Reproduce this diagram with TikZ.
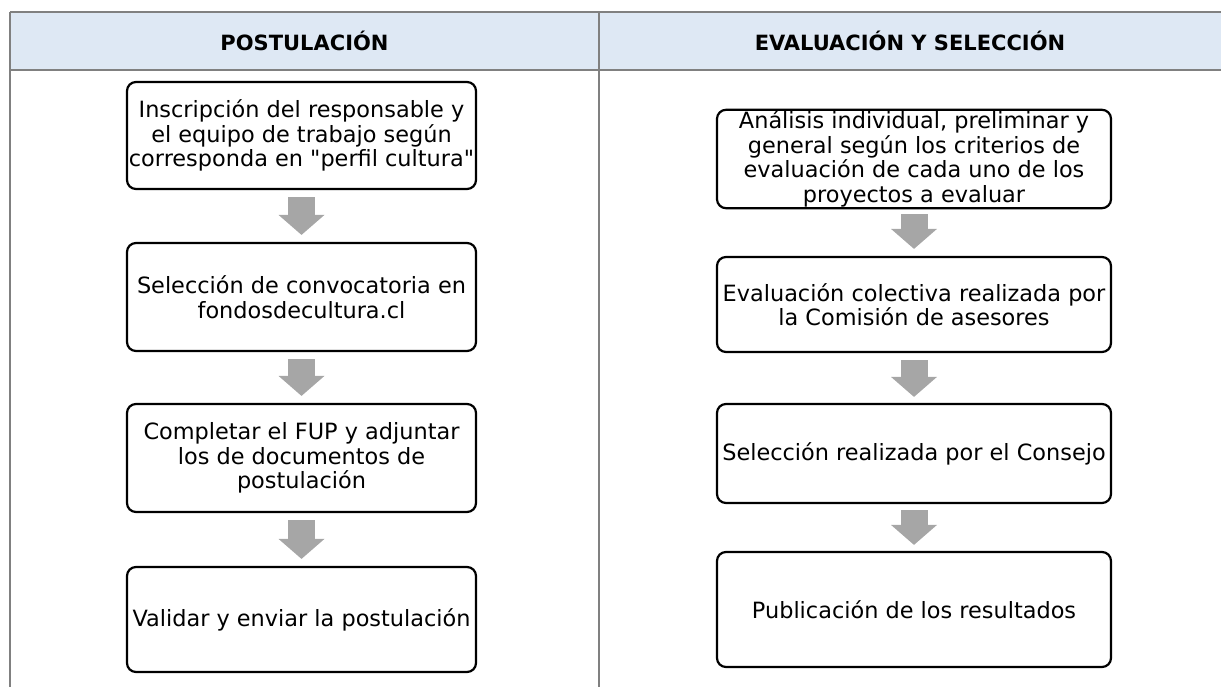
\documentclass[tikz,border=0pt]{standalone}
\usepackage{fontspec}
\setmainfont{DejaVu Sans}[Ligatures=TeXOff]
\usetikzlibrary{calc,positioning}
\usetikzlibrary{arrows.meta}
\definecolor{headblue}{HTML}{DEE8F4}
\definecolor{gridgray}{HTML}{808080}
\definecolor{arrowgray}{HTML}{A6A6A6}

\begin{document}
\begin{tikzpicture}[x=1pt,y=-1pt]
        \tikzstyle{stepbox} = [draw=black, line width=2.2pt, rectangle, rounded corners=9pt, align=center, inner sep=1pt, font=\fontsize{22.4}{24.6}\selectfont]
        \tikzstyle{headtext} = [font=\fontsize{21}{24}\selectfont\bfseries]
        \tikzstyle{flow} = [line width=27pt, draw=arrowgray, -{Triangle[width=46pt,length=20pt,line width=0pt]}]
        \useasboundingbox (0,0) rectangle (1221,687);

        % table
        \fill[headblue] (10,12) rectangle (1221,70);
        \draw[gridgray, line width=1.5pt] (10,12) -- (1221,12) (10,70) -- (1221,70) (10,12) -- (10,687) (599,12) -- (599,687);
        \node[headtext] (hpost) at (304.5,41) {POSTULACIÓN};
        \node[headtext] (heval) at (910,41) {EVALUACIÓN Y SELECCIÓN};

        % postulacion
        \node[stepbox, minimum width=349pt, minimum height=107pt] (post1) at (301.5,135.5) {Inscripción del responsable y\\el equipo de trabajo según\\corresponda en "perfil cultura"};
        \node[stepbox, minimum width=349pt, minimum height=108pt] (post2) at (301.5,297) {Selección de convocatoria en\\fondosdecultura.cl};
        \node[stepbox, minimum width=349pt, minimum height=108pt] (post3) at (301.5,458) {Completar el FUP y adjuntar\\los de documentos de\\postulación};
        \node[stepbox, minimum width=349pt, minimum height=105pt] (post4) at (301.5,619.5) {Validar y enviar la postulación};

        \draw[flow] ([yshift=-7pt]post1.south) -- ([yshift=7pt]post2.north);
        \draw[flow] ([yshift=-7pt]post2.south) -- ([yshift=7pt]post3.north);
        \draw[flow] ([yshift=-7pt]post3.south) -- ([yshift=7pt]post4.north);

        % evaluacion
        \node[stepbox, minimum width=394pt, minimum height=98pt] (eval1) at (914,159) {Análisis individual, preliminar y\\general según los criterios de\\evaluación de cada uno de los\\proyectos a evaluar};
        \node[stepbox, minimum width=394pt, minimum height=95pt] (eval2) at (914,304.5) {Evaluación colectiva realizada por\\la Comisión de asesores};
        \node[stepbox, minimum width=394pt, minimum height=99pt] (eval3) at (914,453.5) {Selección realizada por el Consejo};
        \node[stepbox, minimum width=394pt, minimum height=115pt] (eval4) at (914,609.5) {Publicación de los resultados};

        \draw[flow] ([yshift=-5pt]eval1.south) -- ([yshift=7pt]eval2.north);
        \draw[flow] ([yshift=-7pt]eval2.south) -- ([yshift=6pt]eval3.north);
        \draw[flow] ([yshift=-6pt]eval3.south) -- ([yshift=6pt]eval4.north);
\end{tikzpicture}
\end{document}
